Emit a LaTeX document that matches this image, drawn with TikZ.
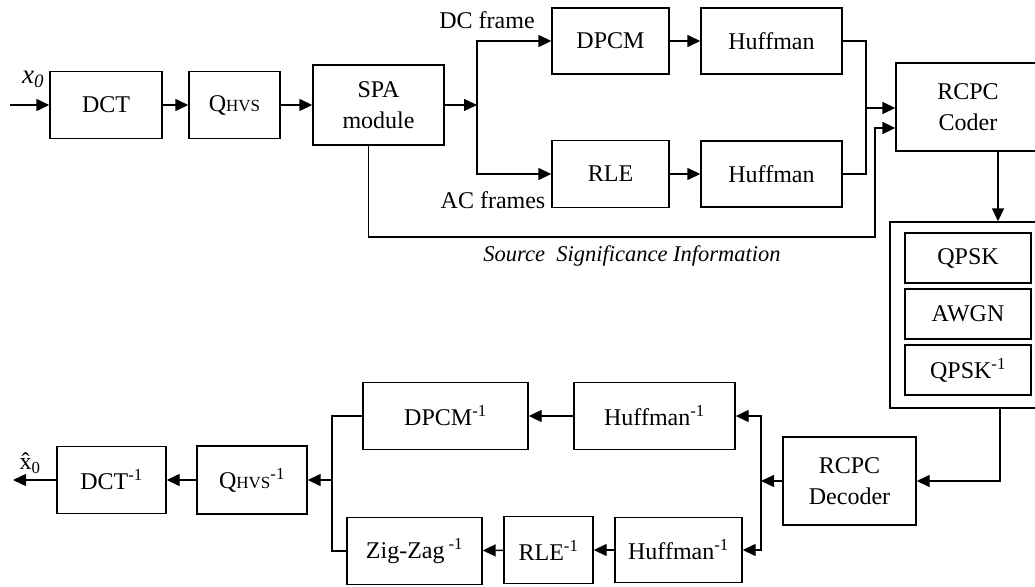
\documentclass[tikz,border=0pt]{standalone}
\usepackage{fontspec}
\setmainfont{Liberation Serif}
\usetikzlibrary{arrows.meta,calc}
\newcommand{\hvs}{Q{\fontsize{17}{17}\selectfont HVS}}
\newcommand{\inv}{\textsuperscript{-1}}
\begin{document}
\begin{tikzpicture}[x=1pt,y=-1pt,line width=1.4pt,
  blk/.style={draw,rectangle,inner sep=0pt,align=center,font=\fontsize{24}{31}\selectfont,fill=white},
  lbl/.style={inner sep=0pt,font=\fontsize{24}{26}\selectfont},
  arr/.style={-{Triangle[length=13pt,width=12pt]}}]
\useasboundingbox (0,0) rectangle (1035,586);
\fill[white] (0,0) rectangle (1035,586);
% encoder
\node[blk,minimum width=112pt,minimum height=67pt] (dct) at (106,105) {DCT};
\node[blk,minimum width=91pt,minimum height=67pt] (qhvs) at (234.5,105) {\hvs};
\node[blk,minimum width=131pt,minimum height=80pt] (spa) at (378.5,105) {SPA\\module};
\node[blk,minimum width=117pt,minimum height=66pt] (dpcm) at (610.5,41) {DPCM};
\node[blk,minimum width=117pt,minimum height=67pt] (rle) at (610.5,174) {RLE};
\node[blk,minimum width=141pt,minimum height=66pt] (hufa) at (771.5,41) {Huffman};
\node[blk,minimum width=141pt,minimum height=66pt] (hufb) at (771.5,174) {Huffman};
\node[blk,minimum width=144pt,minimum height=88pt] (rcpc) at (968,107) {RCPC\\Coder};
% channel
\node[blk,minimum width=156pt,minimum height=186pt] (chan) at (968,315) {};
\node[blk,minimum width=126pt,minimum height=50pt] (qpsk) at (968,258) {QPSK};
\node[blk,minimum width=126pt,minimum height=50pt] (awgn) at (968,314) {AWGN};
\node[blk,minimum width=126pt,minimum height=50pt] (qpski) at (968,370) {QPSK\inv};
% decoder
\node[blk,minimum width=133pt,minimum height=88pt] (dec) at (849.5,481) {RCPC\\Decoder};
\node[blk,minimum width=161pt,minimum height=67pt] (hufia) at (654.5,416) {Huffman\inv};
\node[blk,minimum width=165pt,minimum height=67pt] (dpcmi) at (445.5,416) {DPCM\inv};
\node[blk,minimum width=127pt,minimum height=65pt] (hufib) at (678.5,550) {Huffman\inv};
\node[blk,minimum width=89pt,minimum height=67pt] (rlei) at (548.5,550) {RLE\inv};
\node[blk,minimum width=135pt,minimum height=67pt] (zz) at (414.5,551) {Zig-Zag\,\inv};
\node[blk,minimum width=110pt,minimum height=68pt] (qhvsi) at (252,480) {\hvs\inv};
\node[blk,minimum width=109pt,minimum height=67pt] (dcti) at (111.5,480) {DCT\inv};
% labels
\node[lbl,font=\fontsize{27}{28}\selectfont] (xin) at (33,79) {\textit{x}\textsubscript{\textit{0}}};
\node[lbl] (xout) at (30,463) {\^{x}\textsubscript{0}};
\node[lbl] (dcf) at (487,20) {DC frame};
\node[lbl] (acf) at (493,200) {AC frames};
\node[lbl,font=\fontsize{22.5}{24}\selectfont\itshape] (ssil) at (632,256) {Source\ \ Significance Information};
% coordinates
\coordinate (in) at (10,105);
\coordinate (split) at (477,105);
\coordinate (join) at (866,108);
\coordinate (ssi) at (875,237);
\coordinate (split2) at (761,481);
\coordinate (join2) at (332,480);
\coordinate (out) at (13,480);
% encoder connectors
\draw[arr] (in) -- (dct.west);
\draw[arr] (dct) -- (qhvs);
\draw[arr] (qhvs) -- (spa);
\draw[arr] (spa.east) -- (split);
\draw[arr] (split) |- (dpcm.west);
\draw[arr] (split) |- (rle.west);
\draw[arr] (dpcm) -- (hufa);
\draw[arr] (rle) -- (hufb);
\draw (hufa.east) -| (join) |- (hufb.east);
\draw[arr] (join) -- (join -| rcpc.west);
\draw[arr] ([xshift=-10pt]spa.south) |- (ssi) |- ([yshift=-21pt]rcpc.west);
\draw[arr] ([xshift=30pt]rcpc.south) -- ([xshift=30pt]rcpc.south |- chan.north);
\draw[arr] ([xshift=32pt]chan.south) |- (dec.east);
% decoder connectors
\draw[arr] (dec.west) -- (split2);
\draw[arr] (split2) |- (hufia.east);
\draw[arr] (split2) |- (hufib.east);
\draw[arr] (hufia) -- (dpcmi);
\draw[arr] (hufib) -- (rlei);
\draw[arr] (rlei) -- (zz);
\draw (dpcmi.west) -| (join2) |- (zz.west);
\draw[arr] (join2) -- (qhvsi.east);
\draw[arr] (qhvsi) -- (dcti);
\draw[arr] (dcti.west) -- (out);
\end{tikzpicture}
\end{document}
